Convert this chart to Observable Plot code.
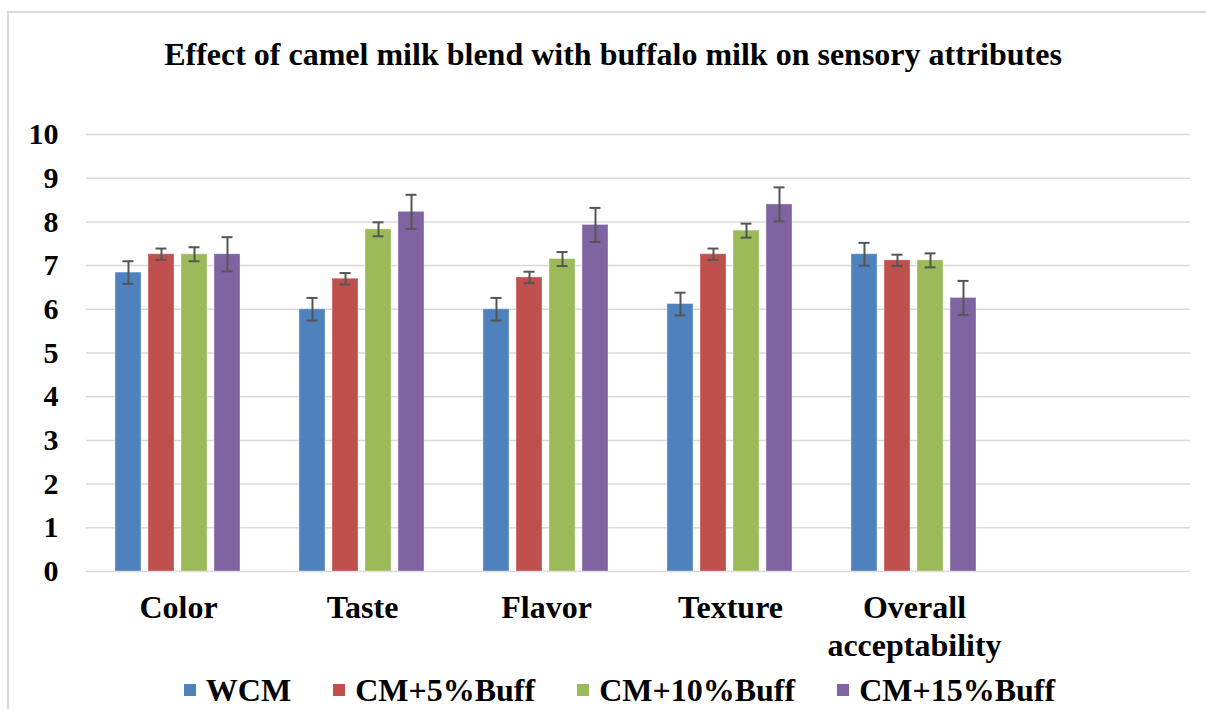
<!DOCTYPE html>
<html>
<head>
<meta charset="utf-8">
<script src="https://cdn.jsdelivr.net/npm/d3@7"></script>
<script src="https://cdn.jsdelivr.net/npm/@observablehq/plot@0.6"></script>
<style>
  html, body { margin: 0; padding: 0; background: #fff; }
  body { width: 1206px; height: 709px; overflow: hidden; position: relative; font-family: "Liberation Serif", "Times New Roman", serif; }
  #frame { position: absolute; left: 7px; top: 11px; width: 1300px; height: 800px; border: 2px solid #d9d9d9; box-sizing: border-box; }
  #title { position: absolute; left: 0; top: 38px; width: 1226px; text-align: center; font: bold 32px "Liberation Serif", serif; line-height: 1; color: #000; }
  #chart { position: absolute; left: 0; top: 100px; }
  #legend { position: absolute; left: 0; top: 670px; width: 1206px; }
  #legend .lg-swatches { justify-content: center; font: bold 32px "Liberation Serif", serif; color: #000; margin: 0; min-height: 40px; padding-left: 75px; }
  #legend .lg-swatch { margin-right: 42px; }
  #legend .lg-swatch > svg { margin-right: 10px; }
</style>
</head>
<body>
<div id="frame"></div>
<div id="title">Effect of camel milk blend with buffalo milk on sensory attributes</div>
<div id="chart"></div>
<div id="legend"></div>
<script>
const categories = ["Color", "Taste", "Flavor", "Texture", "Overall\nacceptability"];
const series = ["WCM", "CM+5%Buff", "CM+10%Buff", "CM+15%Buff"];
const colors = ["#4f81bd", "#c0504d", "#9bbb59", "#8064a2"];
const wcm   = [6.84, 6.00, 6.00, 6.12, 7.26];
const cm5   = [7.26, 6.70, 6.73, 7.26, 7.12];
const cm10  = [7.26, 7.83, 7.15, 7.80, 7.12];
const cm15  = [7.26, 8.23, 7.93, 8.40, 6.26];
const errors = [0.26, 0.13, 0.16, 0.39];
const yTicks = [0, 1, 2, 3, 4, 5, 6, 7, 8, 9, 10];

const fxDomain = [...categories, " "];
const valuesBySeries = [wcm, cm5, cm10, cm15];
const data = series.flatMap((s, i) => categories.map((c, j) => ({
  category: c, series: s, value: valuesBySeries[i][j], err: errors[i]
})));
const gridData = d3.cross(fxDomain, yTicks).map(([c, t]) => ({ category: c, tick: t }));

const chart = Plot.plot({
  width: 1206,
  height: 570,
  marginTop: 34,
  marginBottom: 99,
  marginLeft: 85,
  marginRight: 16,
  style: { fontFamily: "Liberation Serif, serif", fontWeight: "bold", color: "#000", background: "transparent" },
  fx: { domain: fxDomain, padding: 0, label: null, axis: null },
  x: { domain: series, paddingInner: 0.21, paddingOuter: 0.87, axis: null },
  y: { domain: [0, 10], label: null, axis: null },
  color: { domain: series, range: colors },
  marks: [
    Plot.ruleY(gridData, { fx: "category", y: "tick", stroke: "#d9d9d9", strokeWidth: 1.5 }),
    Plot.barY(data, { fx: "category", x: "series", y: "value", fill: "series", stroke: "#fff", strokeOpacity: 0.35, strokeWidth: 1 }),
    Plot.ruleX(data, { fx: "category", x: "series", y1: d => d.value - d.err, y2: d => d.value + d.err, stroke: "#555", strokeWidth: 2 }),
    Plot.tickY(data, { fx: "category", x: "series", y: d => d.value + d.err, stroke: "#555", strokeWidth: 2, insetLeft: 7.5, insetRight: 7.5 }),
    Plot.tickY(data, { fx: "category", x: "series", y: d => d.value - d.err, stroke: "#555", strokeWidth: 2, insetLeft: 7.5, insetRight: 7.5 }),
    Plot.axisY(yTicks, { tickSize: 0, tickPadding: 28, fontSize: 30, fontWeight: "bold", tickFormat: d => String(d), label: null }),
    Plot.axisFx({ anchor: "bottom", tickSize: 0, tickPadding: 19, fontSize: 32, fontWeight: "bold", lineHeight: 1.2, label: null })
  ]
});
document.getElementById("chart").appendChild(chart);

const legend = Plot.legend({
  color: { domain: series, range: colors },
  legend: "swatches",
  swatchWidth: 12,
  swatchHeight: 12,
  className: "lg"
});
document.getElementById("legend").appendChild(legend);
</script>
</body>
</html>
